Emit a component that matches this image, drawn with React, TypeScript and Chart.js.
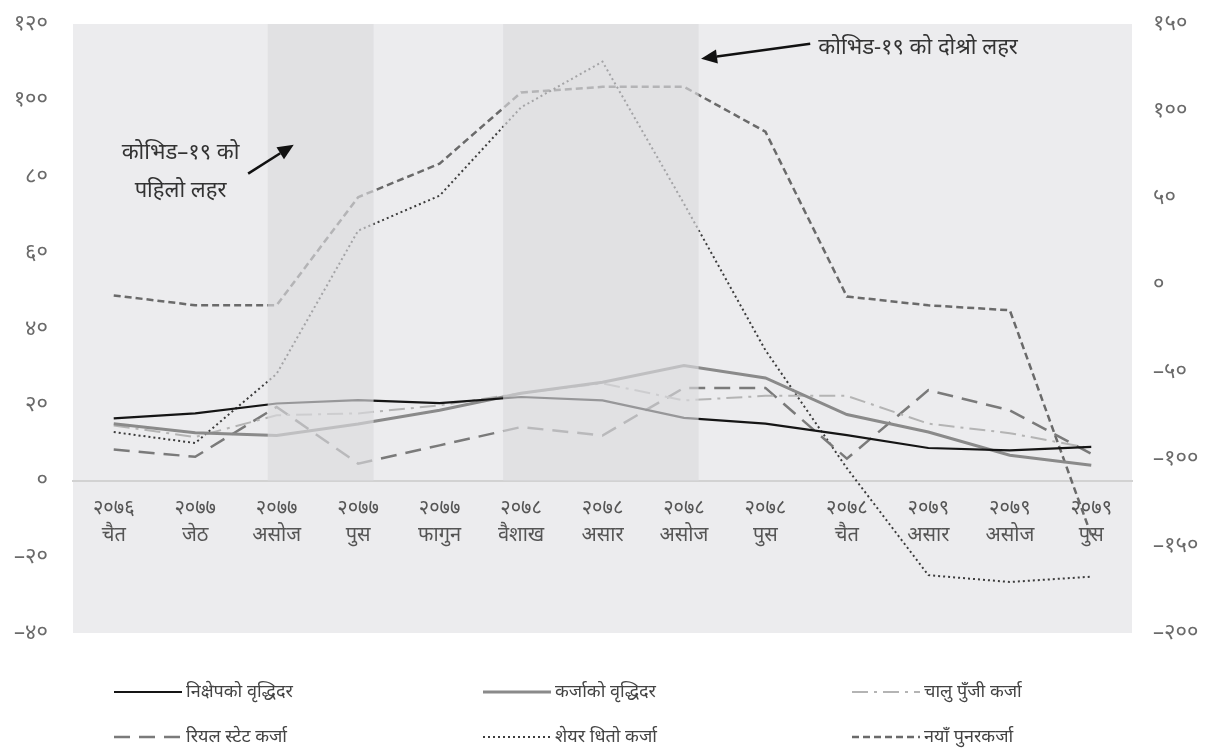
import React, { useEffect, useRef } from "react";
import { Chart, registerables } from "chart.js";

Chart.register(...registerables);

const categories: string[][] = [
  ["२०७६", "चैत"],
  ["२०७७", "जेठ"],
  ["२०७७", "असोज"],
  ["२०७७", "पुस"],
  ["२०७७", "फागुन"],
  ["२०७८", "वैशाख"],
  ["२०७८", "असार"],
  ["२०७८", "असोज"],
  ["२०७८", "पुस"],
  ["२०७८", "चैत"],
  ["२०७९", "असार"],
  ["२०७९", "असोज"],
  ["२०७९", "पुस"],
];

const depositGrowth = [16.4, 17.7, 20.3, 21.2, 20.4, 22.0, 21.1, 16.5, 15.0, 12.0, 8.6, 8.0, 8.9];
const loanGrowth = [15.0, 12.6, 11.9, 14.9, 18.5, 23.0, 25.9, 30.3, 27.0, 17.4, 12.8, 6.7, 4.1];
const workingCapital = [14.5, 11.5, 17.2, 17.7, 19.8, 23.0, 25.6, 21.1, 22.3, 22.3, 15.0, 12.5, 8.5];
const realEstate = [8.2, 6.3, 19.4, 4.5, 9.3, 14.1, 11.9, 24.4, 24.4, 5.8, 23.8, 18.5, 7.1];
const shareLoan = [12.8, 9.9, 28.1, 65.7, 74.9, 98.1, 110.1, 72.8, 34.3, 3.3, -24.8, -26.6, -25.2];
const refinance = [48.7, 46.1, 46.1, 74.5, 83.3, 102.0, 103.5, 103.5, 91.7, 48.4, 46.1, 44.8, -14.3];

const seriesNames = [
  "निक्षेपको वृद्धिदर",
  "कर्जाको वृद्धिदर",
  "चालु पुँजी कर्जा",
  "रियल स्टेट कर्जा",
  "शेयर धितो कर्जा",
  "नयाँ पुनरकर्जा",
];

const leftTickValues = [-40, -20, 0, 20, 40, 60, 80, 100, 120];
const leftTickLabels = ["–४०", "–२०", "०", "२०", "४०", "६०", "८०", "१००", "१२०"];
const rightTickValues = [-200, -150, -100, -50, 0, 50, 100, 150];
const rightTickLabels = ["–२००", "–१५०", "–१००", "–५०", "०", "५०", "१००", "१५०"];

const waveLabels = ["कोभिड–१९ को", "पहिलो लहर", "कोभिड-१९ को दोश्रो लहर"];

const FONT = '"Noto Sans", "DejaVu Sans", sans-serif';

const bgPlugin = {
  id: "plotBg",
  beforeDraw(chart: any) {
    const { ctx, chartArea: a } = chart;
    ctx.save();
    ctx.fillStyle = "#ececee";
    ctx.fillRect(a.left, a.top, a.right - a.left, a.bottom - a.top);
    ctx.restore();
  },
};

const bandPlugin = {
  id: "bands",
  afterDatasetsDraw(chart: any) {
    const { ctx, chartArea: a, scales } = chart;
    const x = scales.x;
    const y = scales.y;
    const y0 = y.getPixelForValue(0);
    const bands = [
      [1.89, 3.19],
      [4.78, 7.18],
    ];
    ctx.save();
    ctx.fillStyle = "rgba(219,219,221,0.66)";
    for (const [s, e] of bands) {
      const x1 = x.getPixelForValue(s);
      const x2 = x.getPixelForValue(e);
      ctx.fillRect(x1, a.top, x2 - x1, y0 - a.top);
    }
    ctx.restore();
  },
};

function arrow(ctx: any, x1: number, y1: number, x2: number, y2: number) {
  const ang = Math.atan2(y2 - y1, x2 - x1);
  const hl = 16;
  const hw = 7;
  const bx = x2 - hl * Math.cos(ang);
  const by = y2 - hl * Math.sin(ang);
  ctx.beginPath();
  ctx.moveTo(x1, y1);
  ctx.lineTo(bx, by);
  ctx.lineWidth = 2.5;
  ctx.strokeStyle = "#111";
  ctx.stroke();
  ctx.beginPath();
  ctx.moveTo(x2, y2);
  ctx.lineTo(bx + hw * Math.sin(ang), by - hw * Math.cos(ang));
  ctx.lineTo(bx - hw * Math.sin(ang), by + hw * Math.cos(ang));
  ctx.closePath();
  ctx.fillStyle = "#111";
  ctx.fill();
}

const annotationPlugin = {
  id: "waves",
  afterDraw(chart: any) {
    const { ctx, scales } = chart;
    const X = (v: number) => scales.x.getPixelForValue(v);
    const Y = (v: number) => scales.y.getPixelForValue(v);
    ctx.save();
    ctx.fillStyle = "#333";
    ctx.font = `22px ${FONT}`;
    ctx.textAlign = "center";
    ctx.textBaseline = "middle";
    ctx.fillText(waveLabels[0], X(0.82), Y(86.2));
    ctx.fillText(waveLabels[1], X(0.82), Y(76.2));
    ctx.textAlign = "left";
    ctx.fillText(waveLabels[2], X(8.65), Y(113.8));
    arrow(ctx, X(1.65), Y(80.7), X(2.21), Y(88.3));
    arrow(ctx, X(8.55), Y(114.8), X(7.21), Y(110.9));
    ctx.restore();
  },
};

const legendPlugin = {
  id: "gridLegend",
  afterDraw(chart: any) {
    const { ctx } = chart;
    const cols = [114, 483, 852];
    const rows = [692, 737];
    const lineLen = 68;
    ctx.save();
    chart.data.datasets.forEach((ds: any, i: number) => {
      const x = cols[i % 3];
      const y = rows[Math.floor(i / 3)];
      ctx.beginPath();
      ctx.setLineDash(ds.borderDash || []);
      ctx.lineWidth = ds.borderWidth;
      ctx.strokeStyle = ds.borderColor;
      ctx.moveTo(x, y);
      ctx.lineTo(x + lineLen, y);
      ctx.stroke();
      ctx.setLineDash([]);
      ctx.fillStyle = "#444";
      ctx.font = `18px ${FONT}`;
      ctx.textAlign = "left";
      ctx.textBaseline = "middle";
      ctx.fillText(ds.label, x + lineLen + 4, y);
    });
    ctx.restore();
  },
};

export default function App() {
  const ref = useRef<HTMLCanvasElement | null>(null);

  useEffect(() => {
    if (!ref.current) return;
    const mk = (
      label: string,
      data: number[],
      color: string,
      width: number,
      dash: number[]
    ) => ({
      label,
      data,
      borderColor: color,
      backgroundColor: color,
      borderWidth: width,
      borderDash: dash,
      pointRadius: 0,
      tension: 0,
      fill: false,
      yAxisID: "y",
    });
    const chart = new Chart(ref.current, {
      type: "line",
      data: {
        labels: categories,
        datasets: [
          mk(seriesNames[0], depositGrowth, "#151515", 2.2, []),
          mk(seriesNames[1], loanGrowth, "#8a8a8a", 3, []),
          mk(seriesNames[2], workingCapital, "#b4b4b4", 2, [16, 6, 3, 6]),
          mk(seriesNames[3], realEstate, "#7a7a7a", 2.5, [16, 9]),
          mk(seriesNames[4], shareLoan, "#3c3c3c", 2, [2, 3]),
          mk(seriesNames[5], refinance, "#6a6a6a", 2.5, [7, 4]),
        ],
      },
      options: {
        animation: false,
        responsive: false,
        layout: { padding: { top: 24, bottom: 118, left: 0, right: 0 } },
        plugins: {
          legend: { display: false },
          tooltip: { enabled: false },
        },
        scales: {
          x: {
            type: "category",
            position: { y: 0 } as any,
            offset: true,
            grid: { display: false, drawTicks: false, offset: true },
            border: { display: true, color: "#d2d2d2", width: 2 },
            ticks: {
              color: "#555",
              font: { family: FONT, size: 20, lineHeight: 1.35 },
              padding: 14,
              maxRotation: 0,
              autoSkip: false,
            },
            afterFit(scale: any) {
              scale.height = 0;
            },
          },
          y: {
            position: "left",
            min: -40,
            max: 120,
            afterBuildTicks(scale: any) {
              scale.ticks = leftTickValues.map((v) => ({ value: v }));
            },
            grid: { display: false, drawTicks: false },
            border: { display: false },
            ticks: {
              color: "#6a6a6a",
              font: { family: FONT, size: 22 },
              padding: 25,
              callback: (v: any) => leftTickLabels[leftTickValues.indexOf(Number(v))] ?? "",
            },
            afterFit(scale: any) {
              scale.width = 73;
              scale.paddingTop = 0;
              scale.paddingBottom = 0;
            },
          },
          y2: {
            position: "right",
            min: -200,
            max: 150,
            afterBuildTicks(scale: any) {
              scale.ticks = rightTickValues.map((v) => ({ value: v }));
            },
            grid: { display: false, drawTicks: false },
            border: { display: false },
            ticks: {
              color: "#6a6a6a",
              font: { family: FONT, size: 22 },
              padding: 21,
              callback: (v: any) => rightTickLabels[rightTickValues.indexOf(Number(v))] ?? "",
            },
            afterFit(scale: any) {
              scale.width = 74;
              scale.paddingTop = 0;
              scale.paddingBottom = 0;
            },
          },
        },
      },
      plugins: [bgPlugin, bandPlugin, annotationPlugin, legendPlugin],
    } as any);
    return () => chart.destroy();
  }, []);

  return (
    <div style={{ position: "absolute", left: 0, top: 0, width: 1206, height: 751, background: "#fff" }}>
      <canvas ref={ref} width={1206} height={751} />
    </div>
  );
}
